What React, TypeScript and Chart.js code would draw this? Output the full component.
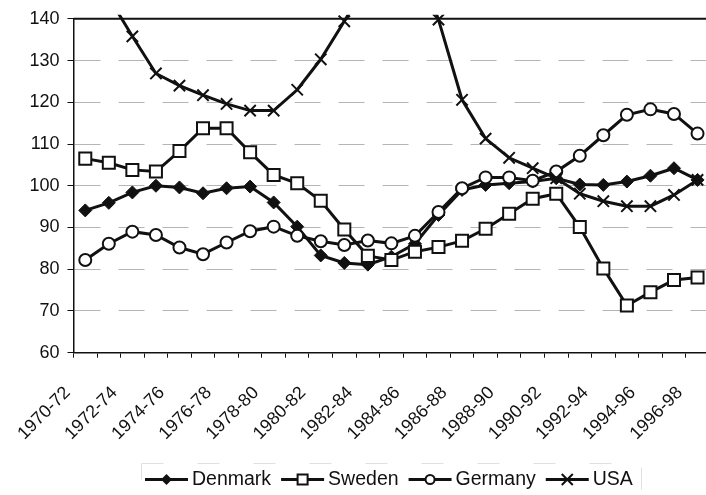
import React, { useEffect, useRef } from 'react';
import { Chart, registerables } from 'chart.js';

Chart.register(...registerables);

const categories = [
  '1970-72', '1971-73', '1972-74', '1973-75', '1974-76', '1975-77', '1976-78',
  '1977-79', '1978-80', '1979-81', '1980-82', '1981-83', '1982-84', '1983-85',
  '1984-86', '1985-87', '1986-88', '1987-89', '1988-90', '1989-91', '1990-92',
  '1991-93', '1992-94', '1993-95', '1994-96', '1995-97', '1996-98',
];

const denmark = [
  94.1, 95.9, 98.4, 100.0, 99.6, 98.2, 99.4, 99.8, 96.0, 90.2, 83.3, 81.5, 81.1, 83.0,
  86.1, 93.0, 99.0, 100.2, 100.6, 101.0, 101.8, 100.3, 100.2, 101.0, 102.4, 104.2, 101.4,
];
const sweden = [
  106.5, 105.5, 103.8, 103.4, 108.3, 113.8, 113.8, 108.0, 102.6, 100.6, 96.4, 89.5, 83.2, 82.2,
  84.2, 85.3, 86.8, 89.7, 93.3, 96.9, 98.1, 90.1, 80.2, 71.3, 74.5, 77.4, 78.0,
];
const germany = [
  82.2, 86.1, 89.0, 88.2, 85.2, 83.6, 86.4, 89.1, 90.2, 88.0, 86.7, 85.8, 86.9, 86.2,
  88.0, 93.7, 99.4, 102.0, 102.0, 101.2, 103.4, 107.2, 112.1, 117.0, 118.3, 117.2, 112.5,
];
const usa = [
  153.0, 145.1, 135.8, 126.9, 124.0, 121.7, 119.6, 118.0, 118.0, 123.0, 130.3, 139.4, 149.0, 156.0,
  155.0, 139.8, 120.6, 111.3, 106.7, 104.2, 101.8, 98.1, 96.3, 95.1, 95.1, 97.8, 101.4,
];

const seriesNames = ['Denmark', 'Sweden', 'Germany', 'USA'];
const yMin = 60;
const yMax = 140;
const yStep = 10;

const FONT = '"Liberation Sans", Arial, Helvetica, sans-serif';
const INK = '#111111';

type MarkerKind = 'rectRot' | 'rect' | 'circle' | 'crossRot';

function drawLegendMarker(ctx: CanvasRenderingContext2D, kind: MarkerKind, x: number, y: number) {
  ctx.save();
  ctx.lineWidth = 2;
  ctx.strokeStyle = INK;
  ctx.beginPath();
  if (kind === 'rectRot') {
    const r = 5.5;
    ctx.moveTo(x, y - r);
    ctx.lineTo(x + r, y);
    ctx.lineTo(x, y + r);
    ctx.lineTo(x - r, y);
    ctx.closePath();
    ctx.fillStyle = INK;
    ctx.fill();
  } else if (kind === 'rect') {
    const h = 5;
    ctx.rect(x - h, y - h, 2 * h, 2 * h);
    ctx.fillStyle = '#fff';
    ctx.fill();
    ctx.stroke();
  } else if (kind === 'circle') {
    ctx.arc(x, y, 4.5, 0, Math.PI * 2);
    ctx.fillStyle = '#fff';
    ctx.fill();
    ctx.stroke();
  } else {
    const h = 5.5;
    ctx.moveTo(x - h, y - h);
    ctx.lineTo(x + h, y + h);
    ctx.moveTo(x + h, y - h);
    ctx.lineTo(x - h, y + h);
    ctx.stroke();
  }
  ctx.restore();
}

const topBorderPlugin = {
  id: 'topBorder',
  beforeDatasetsDraw(chart: any) {
    const { ctx, chartArea } = chart;
    ctx.save();
    ctx.strokeStyle = INK;
    ctx.lineWidth = 2;
    ctx.beginPath();
    ctx.moveTo(chartArea.left, chartArea.top);
    ctx.lineTo(chartArea.right, chartArea.top);
    ctx.stroke();
    ctx.restore();
  },
};

const lineLegendPlugin = {
  id: 'lineLegend',
  afterDraw(chart: any) {
    const ctx: CanvasRenderingContext2D = chart.ctx;
    ctx.save();
    // faint legend frame
    ctx.strokeStyle = '#e0e0e0';
    ctx.lineWidth = 1;
    ctx.setLineDash([22, 34]);
    ctx.strokeRect(141.5, 463.5, 500, 40);
    ctx.setLineDash([]);

    ctx.font = `19.5px ${FONT}`;
    ctx.textBaseline = 'middle';
    ctx.textAlign = 'left';
    let x = 145;
    const y = 479.5;
    chart.data.datasets.forEach((ds: any) => {
      ctx.strokeStyle = INK;
      ctx.lineWidth = 3;
      ctx.beginPath();
      ctx.moveTo(x, y);
      ctx.lineTo(x + 43, y);
      ctx.stroke();
      drawLegendMarker(ctx, ds.pointStyle, x + 21.5, y);
      ctx.fillStyle = INK;
      ctx.fillText(ds.label, x + 47, y);
      x += 47 + ctx.measureText(ds.label).width + 10;
    });
    ctx.restore();
  },
};

export default function App() {
  const canvasRef = useRef<HTMLCanvasElement | null>(null);

  useEffect(() => {
    const canvas = canvasRef.current;
    if (!canvas) return;
    const common = {
      borderColor: INK,
      borderWidth: 3,
      pointBorderColor: INK,
      fill: false,
      tension: 0,
      clip: { left: 12, top: 4, right: 12, bottom: 12 },
    };
    const chart = new Chart(canvas, {
      type: 'line',
      data: {
        labels: categories,
        datasets: [
          {
            ...common,
            label: seriesNames[0],
            data: denmark,
            pointStyle: 'rectRot',
            pointRadius: 6.5,
            pointBackgroundColor: INK,
            pointBorderWidth: 1,
            order: 4,
          },
          {
            ...common,
            label: seriesNames[1],
            data: sweden,
            pointStyle: 'rect',
            pointRadius: 8.5,
            pointBackgroundColor: '#ffffff',
            pointBorderWidth: 2,
            order: 3,
          },
          {
            ...common,
            label: seriesNames[2],
            data: germany,
            pointStyle: 'circle',
            pointRadius: 6,
            pointBackgroundColor: '#ffffff',
            pointBorderWidth: 2,
            order: 2,
          },
          {
            ...common,
            label: seriesNames[3],
            data: usa,
            pointStyle: 'crossRot',
            pointRadius: 8,
            pointBackgroundColor: INK,
            pointBorderWidth: 2,
            order: 1,
          },
        ] as any,
      },
      options: {
        responsive: false,
        animation: false,
        events: [],
        layout: { padding: { top: 15.2, left: 0, right: 6, bottom: 0 } },
        plugins: {
          legend: { display: false },
          tooltip: { enabled: false },
          title: { display: false },
        },
        scales: {
          x: {
            type: 'category',
            offset: true,
            afterFit: (s: any) => {
              s.height = 495 - 352.7;
            },
            grid: {
              display: true,
              drawOnChartArea: false,
              drawTicks: true,
              tickLength: 5,
              tickColor: INK,
              offset: true,
            },
            border: { display: true, color: INK, width: 1.5 },
            ticks: {
              autoSkip: false,
              maxRotation: 45,
              minRotation: 45,
              padding: 7,
              color: INK,
              font: { family: FONT, size: 18 },
              callback: (_v: any, i: number) => (i % 2 === 0 ? categories[i] + '     ' : ''),
            },
          },
          y: {
            min: yMin,
            max: yMax,
            afterFit: (s: any) => {
              s.width = 73.5;
            },
            grid: {
              color: '#b5b5b5',
              lineWidth: 1,
              tickLength: 6,
              tickColor: INK,
              drawTicks: true,
            },
            border: { display: true, color: INK, width: 1.5, dash: [26, 18] },
            ticks: {
              stepSize: yStep,
              padding: 8,
              color: INK,
              font: { family: FONT, size: 18 },
            },
          },
        },
      } as any,
      plugins: [topBorderPlugin, lineLegendPlugin],
    });
    return () => chart.destroy();
  }, []);

  return (
    <div
      style={{
        position: 'fixed',
        left: 0,
        top: 0,
        width: 706,
        height: 495,
        overflow: 'hidden',
        background: '#ffffff',
      }}
    >
      <canvas ref={canvasRef} width={720} height={495} style={{ display: 'block' }} />
    </div>
  );
}
